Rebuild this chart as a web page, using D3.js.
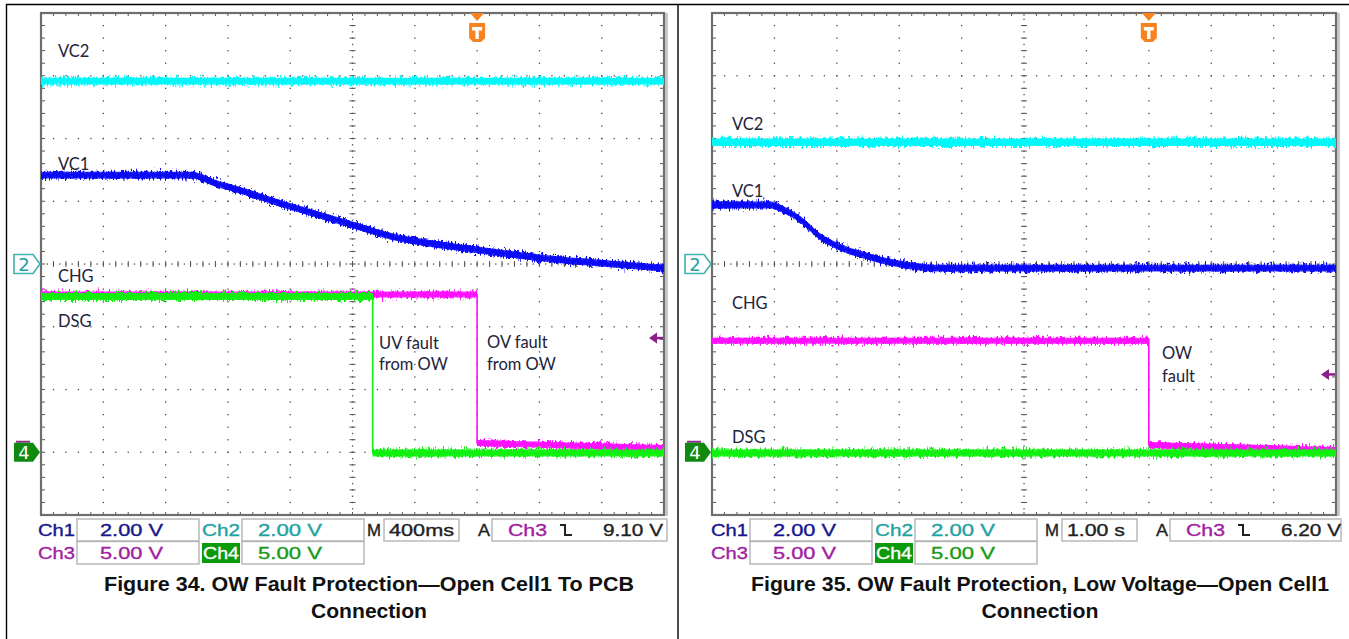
<!DOCTYPE html>
<html>
<head>
<meta charset="utf-8">
<script src="https://cdn.jsdelivr.net/npm/d3@7"></script>
<style>
  html, body { margin: 0; padding: 0; background: #fff; }
  svg { display: block; }
</style>
</head>
<body>
<script>
// ---------- channel setup (shared by both captures) ----------
const channelNames  = ["Ch1", "Ch2", "Ch3", "Ch4"];
const voltsPerDiv   = [2, 2, 5, 5];
const groundDiv     = [0, 0, -3, -3];          // ground marker position, divisions from centre
const traceColors   = ["#0a0af5", "#00f8f8", "#ff10ff", "#10f010"];
const scaleLabels   = ["2.00 V", "2.00 V", "5.00 V", "5.00 V"];

// ---------- Figure 34: 400 ms/div ----------
const f34TimeBase   = 0.4;                     // s per division
const f34TimeLabel  = "400ms";
const f34TrigLevel  = 9.10;                    // Ch3 falling edge, V
const f34TrigLabel  = "9.10 V";
const f34Vc2Time    = [0, 4.0];
const f34Vc2Volts   = [5.83, 5.83];
const f34Vc1Time    = [0, 0.96, 1.02, 1.10, 1.23, 1.34, 1.45, 1.66, 1.98, 2.29, 2.56, 2.80, 3.22, 3.59, 4.0];
const f34Vc1Volts   = [2.83, 2.83, 2.78, 2.61, 2.42, 2.26, 2.07, 1.75, 1.28, 0.83, 0.61, 0.45, 0.19, 0.03, -0.13];
const f34ChgTime    = [0, 2.80, 2.80, 4.0];
const f34ChgVolts   = [12.57, 12.57, 0.74, 0.34];
const f34DsgTime    = [0, 2.13, 2.13, 4.0];
const f34DsgVolts   = [12.41, 12.41, -0.06, -0.06];
const f34Notes      = ["VC2", "VC1", "CHG", "DSG", "UV fault", "from OW", "OV fault", "from OW"];
const f34Caption    = ["Figure 34. OW Fault Protection\u2014Open Cell1 To PCB", "Connection"];

// ---------- Figure 35: 1 s/div ----------
const f35TimeBase   = 1.0;
const f35TimeLabel  = "1.00 s";
const f35TrigLevel  = 6.20;
const f35TrigLabel  = "6.20 V";
const f35Vc2Time    = [0, 10];
const f35Vc2Volts   = [3.88, 3.88];
const f35Vc1Time    = [0, 0.93, 1.09, 1.25, 1.41, 1.57, 1.76, 1.97, 2.16, 2.42, 2.69, 3.01, 3.57, 10];
const f35Vc1Volts   = [1.88, 1.88, 1.78, 1.63, 1.43, 1.15, 0.83, 0.61, 0.45, 0.29, 0.13, 0.0, -0.13, -0.13];
const f35ChgTime    = [0, 7.0, 7.0, 10];
const f35ChgVolts   = [8.88, 8.88, 0.58, 0.18];
const f35DsgTime    = [0, 10];
const f35DsgVolts   = [-0.06, -0.06];
const f35Notes      = ["VC2", "VC1", "CHG", "DSG", "OW", "fault"];
const f35Caption    = ["Figure 35. OW Fault Protection, Low Voltage\u2014Open Cell1", "Connection"];

const trigPositionDiv = 7;   // trigger point, divisions from left edge

// ---------- layout ----------
const W = 1349, H = 639;
const panels = [
  {
    frame: { x0: 41, x1: 664, y0: 13, y1: 515 },
    timeBase: f34TimeBase, timeLabel: f34TimeLabel, trigLevel: f34TrigLevel, trigLabel: f34TrigLabel,
    traces: [
      { ch: 1, t: f34Vc2Time, v: f34Vc2Volts, half: 3.4 },
      { ch: 0, t: f34Vc1Time, v: f34Vc1Volts, half: 3.4, smooth: true },
      { ch: 2, t: f34ChgTime, v: f34ChgVolts, half: 3 },
      { ch: 3, t: f34DsgTime, v: f34DsgVolts, half: 3.4 }
    ],
    notes: f34Notes,
    notePos: [[17, 44], [17, 157], [17, 269], [17, 314], [338, 336], [338, 357], [446, 335], [446, 357]],
    caption: f34Caption, captionX: 369, captionLen: [530, 116],
    statusShift: [0, 0], box4End: 667
  },
  {
    frame: { x0: 712, x1: 1336, y0: 13, y1: 515 },
    timeBase: f35TimeBase, timeLabel: f35TimeLabel, trigLevel: f35TrigLevel, trigLabel: f35TrigLabel,
    traces: [
      { ch: 1, t: f35Vc2Time, v: f35Vc2Volts, half: 3.8 },
      { ch: 0, t: f35Vc1Time, v: f35Vc1Volts, half: 3.4, smooth: true },
      { ch: 2, t: f35ChgTime, v: f35ChgVolts, half: 3 },
      { ch: 3, t: f35DsgTime, v: f35DsgVolts, half: 3.4 }
    ],
    notes: f35Notes,
    notePos: [[20, 117], [20, 184], [20, 296], [20, 430], [450, 346], [450, 369]],
    caption: f35Caption, captionX: 1040, captionLen: [578, 117],
    statusShift: [2, 7], box4End: 1341
  }
];

const svg = d3.select("body").append("svg")
  .attr("width", W).attr("height", H)
  .attr("viewBox", `0 0 ${W} ${H}`);

svg.append("rect").attr("width", W).attr("height", H).attr("fill", "#fff");

// trace texture: vertical jitter only
const defs = svg.append("defs");
const flt = defs.append("filter").attr("id", "jitter")
  .attr("filterUnits", "userSpaceOnUse")
  .attr("x", 0).attr("y", 0).attr("width", W).attr("height", H);
flt.append("feTurbulence").attr("type", "fractalNoise")
  .attr("baseFrequency", "0.55 0.2").attr("numOctaves", 3).attr("seed", 7).attr("result", "turb");
flt.append("feColorMatrix").attr("in", "turb").attr("type", "matrix")
  .attr("values", "0 0 0 0 0.5  0 1 0 0 0  0 0 0 0 0  0 0 0 0 1").attr("result", "disp");
flt.append("feDisplacementMap").attr("in", "SourceGraphic").attr("in2", "disp")
  .attr("scale", 11).attr("xChannelSelector", "R").attr("yChannelSelector", "G");

// page rules around the two figures
const rules = svg.append("g").attr("stroke", "#000").attr("stroke-width", 1.4);
rules.append("line").attr("x1", 6).attr("x2", W).attr("y1", 4.5).attr("y2", 4.5);
rules.append("line").attr("x1", 6.5).attr("x2", 6.5).attr("y1", 4).attr("y2", H);
rules.append("line").attr("x1", 678).attr("x2", 678).attr("y1", 4).attr("y2", H);

panels.forEach(p => drawScope(svg.append("g"), p));

function drawScope(g, p) {
  const f = p.frame;
  const x = d3.scaleLinear().domain([0, 10 * p.timeBase]).range([f.x0, f.x1]);
  const xd = d3.scaleLinear().domain([0, 10]).range([f.x0, f.x1]);     // divisions
  const yd = d3.scaleLinear().domain([-4, 4]).range([f.y1, f.y0]);     // divisions
  const yCh = (ch, v) => yd(groundDiv[ch] + v / voltsPerDiv[ch]);

  // --- graticule ---
  const grid = g.append("g").attr("fill", "#4a4a4a");
  const fine = d3.range(0, 10.001, 0.2);
  const fineY = d3.range(-4, 4.001, 0.2);
  d3.range(1, 10).filter(i => i !== 5).forEach(i => {
    fineY.forEach(v => grid.append("rect").attr("x", xd(i) - 0.6).attr("y", yd(v) - 0.6).attr("width", 1.3).attr("height", 1.3));
  });
  d3.range(-3, 4).filter(i => i !== 0).forEach(i => {
    fine.forEach(v => grid.append("rect").attr("x", xd(v) - 0.6).attr("y", yd(i) - 0.6).attr("width", 1.3).attr("height", 1.3));
  });
  // centre axes with minor ticks
  const ax = g.append("g").attr("stroke", "#555").attr("stroke-width", 1);
  d3.range(0, 10.001, 0.1).forEach(v => grid.append("rect").attr("x", xd(v) - 0.6).attr("y", yd(0) - 0.6).attr("width", 1.3).attr("height", 1.3));
  d3.range(-4, 4.001, 0.1).forEach(v => grid.append("rect").attr("x", xd(5) - 0.6).attr("y", yd(v) - 0.6).attr("width", 1.3).attr("height", 1.3));
  fine.forEach(v => ax.append("line").attr("x1", xd(v)).attr("x2", xd(v)).attr("y1", yd(0) - 3).attr("y2", yd(0) + 3));
  fineY.forEach(v => ax.append("line").attr("x1", xd(5) - 3).attr("x2", xd(5) + 3).attr("y1", yd(v)).attr("y2", yd(v)));
  // edge ticks
  fine.forEach(v => {
    ax.append("line").attr("x1", xd(v)).attr("x2", xd(v)).attr("y1", f.y0).attr("y2", f.y0 + 3);
    ax.append("line").attr("x1", xd(v)).attr("x2", xd(v)).attr("y1", f.y1).attr("y2", f.y1 - 3);
  });
  fineY.forEach(v => {
    ax.append("line").attr("x1", f.x0).attr("x2", f.x0 + 4).attr("y1", yd(v)).attr("y2", yd(v));
    ax.append("line").attr("x1", f.x1).attr("x2", f.x1 - 4).attr("y1", yd(v)).attr("y2", yd(v));
  });
  // frame with light shadow on the right
  g.append("rect").attr("x", f.x1 + 1).attr("y", f.y0).attr("width", 3).attr("height", f.y1 - f.y0 + 1).attr("fill", "#c8c8c8");
  g.append("rect").attr("x", f.x0).attr("y", f.y0).attr("width", f.x1 - f.x0).attr("height", f.y1 - f.y0)
    .attr("fill", "none").attr("stroke", "#6e6e6e").attr("stroke-width", 2.2);

  // --- traces ---
  p.traces.forEach(tr => {
    const pts = tr.t.map((t, i) => [x(t), yCh(tr.ch, tr.v[i])]);
    const curve = tr.smooth ? d3.curveMonotoneX : d3.curveLinear;
    const area = d3.area().x(d => d[0]).y0(d => d[1] - tr.half).y1(d => d[1] + tr.half).curve(curve);
    const line = d3.line().curve(curve);
    g.append("path").attr("d", area(pts)).attr("fill", traceColors[tr.ch]).attr("filter", "url(#jitter)");
    g.append("path").attr("d", area(pts)).attr("fill", traceColors[tr.ch]).attr("transform", "scale(1,1)")
      .attr("opacity", 0.85);
    g.append("path").attr("d", line(pts)).attr("fill", "none").attr("stroke", traceColors[tr.ch]).attr("stroke-width", 1.6);
  });

  // --- annotations ---
  p.notes.forEach((t, i) => {
    g.append("text").attr("x", f.x0 + p.notePos[i][0]).attr("y", f.y0 + p.notePos[i][1])
      .attr("font-family", "Lato, 'Open Sans', sans-serif").attr("font-size", 16.5)
      .attr("fill", "#23233a").text(t);
  });

  // --- channel ground markers ---
  const y2 = yd(groundDiv[1]);
  const mk = (yy) => `M${f.x0 - 27},${yy - 9.5}H${f.x0 - 8}L${f.x0 - 1},${yy}L${f.x0 - 8},${yy + 9.5}H${f.x0 - 27}Z`;
  g.append("path").attr("d", mk(y2)).attr("fill", "#fff").attr("stroke", "#3cb2b2").attr("stroke-width", 1.6);
  g.append("text").attr("x", f.x0 - 17).attr("y", y2 + 6.5).attr("text-anchor", "middle")
    .attr("font-family", "'DejaVu Sans', sans-serif").attr("font-size", 18).attr("fill", "#26a0a0").text("2");
  const y4 = yd(groundDiv[3]);
  g.append("rect").attr("x", f.x0 - 25).attr("y", y4 - 11.5).attr("width", 14).attr("height", 2).attr("fill", "#8e2b8e");
  g.append("path").attr("d", mk(y4)).attr("fill", "#0f8a0f");
  g.append("text").attr("x", f.x0 - 17).attr("y", y4 + 6.5).attr("text-anchor", "middle")
    .attr("font-family", "'DejaVu Sans', sans-serif").attr("font-size", 18).attr("fill", "#fff").text("4");

  // --- trigger position marker ---
  const tx = xd(trigPositionDiv);
  const tg = g.append("g").attr("fill", "#f7821f");
  tg.append("path").attr("d", `M${tx - 7},${f.y0}H${tx + 7}L${tx},${f.y0 + 8}Z`);
  tg.append("path").attr("d", `M${tx - 8},${f.y0 + 10}H${tx + 8}V${f.y0 + 25}L${tx + 4},${f.y0 + 29}H${tx - 4}L${tx - 8},${f.y0 + 25}Z`);
  g.append("path").attr("d", `M${tx - 5},${f.y0 + 14}H${tx + 5}V${f.y0 + 17.5}H${tx + 1.7}V${f.y0 + 26}H${tx - 1.7}V${f.y0 + 17.5}H${tx - 5}Z`).attr("fill", "#fff");

  // --- trigger level marker ---
  const ty = yCh(2, p.trigLevel);
  g.append("path").attr("d", `M${f.x1 - 15},${ty}L${f.x1 - 7},${ty - 5.5}V${ty + 5.5}Z`).attr("fill", "#8c1f8c");
  g.append("line").attr("x1", f.x1 - 8).attr("x2", f.x1 - 1).attr("y1", ty).attr("y2", ty).attr("stroke", "#8c1f8c").attr("stroke-width", 2.5);

  // --- status readout ---
  const o = f.x0 - 41, s1 = o + p.statusShift[0], s2 = o + p.statusShift[1];
  const font = "'Liberation Sans', Arial, sans-serif";
  const st = g.append("g");
  const box = (x0, x1, y0, y1) => st.append("rect").attr("x", x0).attr("y", y0).attr("width", x1 - x0).attr("height", y1 - y0)
    .attr("fill", "#fff").attr("stroke", "#b4b4b4").attr("stroke-width", 1.4);
  const txt = (t, xx, yy, len, col) => st.append("text").attr("x", xx).attr("y", yy)
    .attr("font-family", font).attr("font-size", 17).attr("fill", col)
    .attr("stroke", col).attr("stroke-width", 0.35)
    .attr("textLength", len).attr("lengthAdjust", "spacingAndGlyphs").text(t);
  const chCol = ["#16168e", "#1fa2a2", "#a11ea1", "#189a18"];
  const r1 = 536, r2 = 558.5;
  box(77 + s1, 199 + s1, 519, 541); box(242 + s1, 364 + s1, 519, 541);
  box(77 + s1, 199 + s1, 541.5, 564); box(242 + s1, 364 + s1, 541.5, 564);
  box(384 + s2, 459 + s2, 519, 541); box(492 + s2, p.box4End, 519, 541);
  txt(channelNames[0], 38 + s1, r1, 37, chCol[0]);
  txt(scaleLabels[0], 100 + s1, r1, 63, chCol[0]);
  txt(channelNames[1], 202 + s1, r1, 38, chCol[1]);
  txt(scaleLabels[1], 258 + s1, r1, 64, chCol[1]);
  txt(channelNames[2], 38 + s1, r2, 37, chCol[2]);
  txt(scaleLabels[2], 100 + s1, r2, 63, chCol[2]);
  st.append("rect").attr("x", 202 + s1).attr("y", 543).attr("width", 38).attr("height", 20).attr("fill", "#0a9a0a");
  txt(channelNames[3], 203 + s1, r2, 36, "#fff");
  txt(scaleLabels[3], 258 + s1, r2, 64, chCol[3]);
  txt("M", 367 + s2, r1, 14, "#222");
  txt(p.timeLabel, 389 + s2, r1, p.timeLabel === "400ms" ? 65 : 58, "#222");
  txt("A", 478 + s2, r1, 12, "#222");
  txt(channelNames[2], 508 + s2, r1, 39, chCol[2]);
  st.append("path").attr("d", `M${560 + s2},${525}H${565 + s2}V${535}H${572 + s2}`)
    .attr("fill", "none").attr("stroke", "#222").attr("stroke-width", 2);
  txt(p.trigLabel, 603 + s2, r1, 60, "#222");

  // --- caption ---
  p.caption.forEach((c, i) => {
    g.append("text").attr("x", p.captionX).attr("y", 591 + i * 27).attr("text-anchor", "middle")
      .attr("font-family", font).attr("font-weight", "bold").attr("font-size", 21).attr("fill", "#111")
      .attr("textLength", p.captionLen[i]).attr("lengthAdjust", "spacingAndGlyphs").text(c);
  });
}
</script>
</body>
</html>
